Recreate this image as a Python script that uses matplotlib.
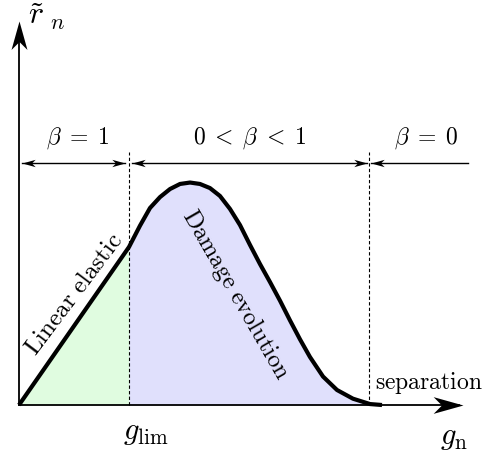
import numpy as np
import matplotlib.pyplot as plt
from matplotlib.path import Path

plt.rcParams['mathtext.fontset'] = 'cm'
plt.rcParams['font.family'] = 'DejaVu Serif'

# traction-separation curve (g in units of g_lim, r in units of r(g_lim))
g_curve = [0.0, 1.0, 1.1, 1.191, 1.282, 1.373, 1.464, 1.555, 1.645, 1.736,
           1.827, 1.918, 2.009, 2.1, 2.191, 2.282, 2.373, 2.464, 2.555,
           2.645, 2.764, 2.891, 3.036, 3.191, 3.3]
r_curve = [0.0, 1.0, 1.135, 1.247, 1.316, 1.367, 1.399, 1.408, 1.399, 1.373,
           1.323, 1.241, 1.139, 1.013, 0.892, 0.778, 0.660, 0.535, 0.415,
           0.304, 0.180, 0.095, 0.040, 0.006, 0.0]
g_lim = 1.0
g_sep = 3.186
region_labels = [r'$\beta\;=\;1$', r'$0\;<\;\beta\;<\;1$', r'$\beta\;=\;0$']


def head(dx, dy):
    # concave arrow head pointing along (dx, dy), tip at the origin
    pts = np.array([(0, 0), (-1, 0.28), (-0.72, 0), (-1, -0.28), (0, 0)])
    rot = np.array([[dx, -dy], [dy, dx]])
    pts = pts @ rot.T
    return Path(pts, [Path.MOVETO, Path.LINETO, Path.LINETO, Path.LINETO, Path.CLOSEPOLY])


fig = plt.figure(figsize=(4.87, 4.58), dpi=100)
ax = fig.add_axes([0, 0, 1, 1])
ax.set_xlim(-0.1727, 4.2545)
ax.set_ylim(-0.3354, 2.5633)
ax.axis('off')

g = np.array(g_curve)
r = np.array(r_curve)

# shaded regions
ax.fill_between(g, 0, r, where=g <= g_lim, color='#e0fce0', lw=0)
ax.fill_between(g, 0, r, where=g >= g_lim, color='#e0e0fc', lw=0)

# dashed limits
ax.plot([g_lim, g_lim], [0, 1.60], ls=(0, (3, 2)), color='k', lw=0.8)
ax.plot([g_sep, g_sep], [0, 1.60], ls=(0, (3, 2)), color='k', lw=0.8)

# axes with arrows
ax.plot([0, 4.0], [0, 0], color='k', lw=1.3)
ax.plot([0, 0], [0, 2.3], color='k', lw=1.3)
ax.plot([4.04], [0], marker=head(1, 0), ms=43, color='k', mew=0)
ax.plot([0], [2.43], marker=head(0, 1), ms=41, color='k', mew=0)

# curve
ax.plot(g, r, color='k', lw=3, solid_capstyle='butt', solid_joinstyle='round')

# dimension arrows
ya = 1.532
left_tip = [0.025, 1.025, 3.2]
right_tip = [0.96, 3.16]
ax.plot([0.025, 0.96], [ya, ya], color='k', lw=1)
ax.plot([1.025, 3.16], [ya, ya], color='k', lw=1)
ax.plot([3.2, 4.08], [ya, ya], color='k', lw=1)
for x in left_tip:
    ax.plot([x], [ya], marker=head(-1, 0), ms=19, color='k', mew=0)
for x in right_tip:
    ax.plot([x], [ya], marker=head(1, 0), ms=19, color='k', mew=0)

ax.text(0.53, 1.61, region_labels[0], fontsize=17, ha='center', va='bottom')
ax.text(2.1, 1.61, region_labels[1], fontsize=17, ha='center', va='bottom')
ax.text(3.7, 1.61, region_labels[2], fontsize=17, ha='center', va='bottom')

ax.text(0.50, 0.70, r'$\mathrm{Linear\ elastic}$', fontsize=18, rotation=53,
        ha='center', va='center', rotation_mode='anchor')
ax.text(1.975, 0.70, r'$\mathrm{Damage\ evolution}$', fontsize=17.5, rotation=-60,
        ha='center', va='center', rotation_mode='anchor')
ax.text(3.727, 0.14, r'$\mathrm{separation}$', fontsize=17, ha='center', va='center')

ax.text(1.15, -0.17, r'$g_{\mathrm{lim}}$', fontsize=22, ha='center', va='center')
ax.text(3.95, -0.2, r'$g_{\mathrm{n}}$', fontsize=22, ha='center', va='center')
ax.text(0.255, 2.46, r'$\tilde{r}_{\ n}$', fontsize=23, ha='center', va='center')

fig.savefig('out.png', dpi=100)
